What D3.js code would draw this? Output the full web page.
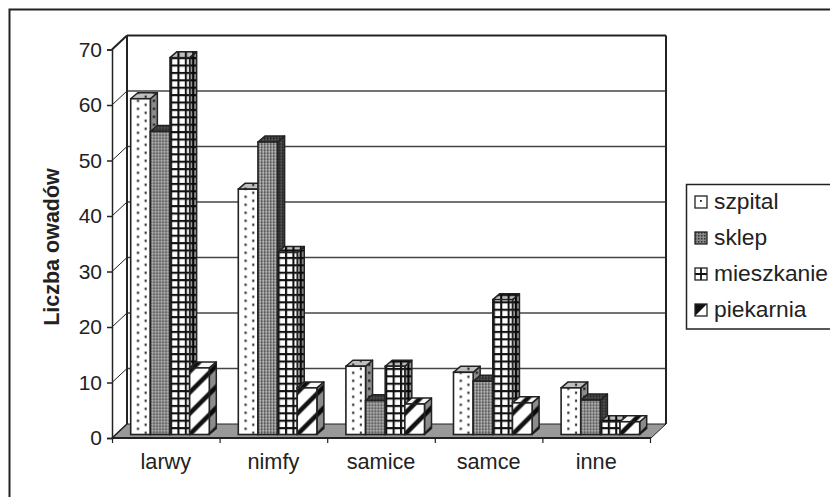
<!DOCTYPE html>
<html><head><meta charset="utf-8">
<script src="https://cdn.jsdelivr.net/npm/d3@7"></script>
<style>
html,body{margin:0;padding:0;background:#fff}
svg{display:block}
text{font-family:"Liberation Sans",Arial,sans-serif;fill:#222}
</style></head><body><svg id="c" width="830" height="497"></svg>
<script>
const categories=["larwy","nimfy","samice","samce","inne"];
const series=["szpital","sklep","mieszkanie","piekarnia"];
const szpital=[60.5,44.2,12.3,11.2,8.4];
const sklep=[54.6,52.7,6.1,9.6,6.2];
const mieszkanie=[67.9,32.8,12.3,24.3,2.3];
const piekarnia=[12,8.4,5.5,5.7,2.3];
const yTicks=[0,10,20,30,40,50,60,70];
const values={szpital,sklep,mieszkanie,piekarnia};

const ink="#222";
const svg=d3.select("#c");
const defs=svg.append("defs");
const y=d3.scaleLinear().domain([0,70]).range([438,49.5]);
const x=d3.scaleBand().domain(categories).range([112,650]);
const wall={dx:15,dy:-14};
const bar={dx:7,dy:-6,pad:18.7,span:78.6,inset:3.5};

function pat(id,w,h,draw){
  const p=defs.append("pattern").attr("id",id).attr("patternUnits","userSpaceOnUse").attr("width",w).attr("height",h);
  draw(p);
}
pat("p-szpital",16,8,p=>{
  p.append("rect").attr("width",16).attr("height",8).attr("fill","#fff");
  p.append("rect").attr("x",6.2).attr("y",1.2).attr("width",2.2).attr("height",2.2).attr("fill","#222");
  p.append("rect").attr("x",13.9).attr("y",5.2).attr("width",2.2).attr("height",2.2).attr("fill","#222");
});
pat("p-sklep",3,3,p=>{
  p.append("rect").attr("width",3).attr("height",3).attr("fill","#8a8a8a");
  p.append("rect").attr("width",1.5).attr("height",1.5).attr("fill","#444");
  p.append("rect").attr("x",1.5).attr("y",1.5).attr("width",1.5).attr("height",1.5).attr("fill","#c8c8c8");
});
pat("p-mieszkanie",7.4,7.4,p=>{
  p.append("rect").attr("width",7.4).attr("height",7.4).attr("fill","#fff");
  p.append("rect").attr("width",2.1).attr("height",7.4).attr("fill","#111");
  p.append("rect").attr("width",7.4).attr("height",2.1).attr("fill","#111");
});
pat("p-piekarnia",21,21,p=>{
  p.append("rect").attr("width",21).attr("height",21).attr("fill","#fff");
  p.append("path").attr("d","M-4,25L25,-4M-4,4L4,-4M17,25L25,17").attr("stroke","#111").attr("stroke-width",4.6);
});
pat("l-szpital",12,12,p=>{
  p.append("rect").attr("width",12).attr("height",12).attr("fill","#fff");
  p.append("rect").attr("x",5).attr("y",4).attr("width",1.8).attr("height",1.8).attr("fill","#222");
});
pat("l-sklep",3,3,p=>{
  p.append("rect").attr("width",3).attr("height",3).attr("fill","#888");
  p.append("rect").attr("width",1.5).attr("height",1.5).attr("fill","#333");
});
pat("l-mieszkanie",12,12,p=>{
  p.append("rect").attr("width",12).attr("height",12).attr("fill","#fff");
  p.append("path").attr("d","M6,0V12M0,6H12").attr("stroke","#111").attr("stroke-width",1.8);
});
pat("l-piekarnia",12,12,p=>{
  p.append("rect").attr("width",12).attr("height",12).attr("fill","#fff");
  p.append("path").attr("d","M0,12L0,0L12,0Z").attr("fill","#111");
});

// outer frame: open on the right and at the bottom
svg.append("path").attr("d","M9.5,497V9.5H830").attr("fill","none").attr("stroke",ink).attr("stroke-width",2);

const x0=x.range()[0], x1=x.range()[1]+1, yb=y(0), yt=y(70);
// floor
svg.append("path").attr("d",`M${x0},${yb}L${x1},${yb}L${x1+wall.dx},${yb+wall.dy}L${x0+wall.dx},${yb+wall.dy}Z`).attr("fill","#999").attr("stroke",ink).attr("stroke-width",1);
// gridlines: back wall and left wall
const grid=svg.append("g");
yTicks.slice(1).forEach(v=>{
  grid.append("line").attr("x1",x0+wall.dx).attr("x2",x1+wall.dx).attr("y1",y(v)+wall.dy).attr("y2",y(v)+wall.dy)
    .attr("stroke",v==70?ink:"#444").attr("stroke-width",v==70?2:1.3);
  grid.append("line").attr("x1",x0).attr("x2",x0+wall.dx).attr("y1",y(v)).attr("y2",y(v)+wall.dy)
    .attr("stroke",ink).attr("stroke-width",v==70?2:1);
});
grid.append("line").attr("x1",x0).attr("x2",x0+wall.dx).attr("y1",yb).attr("y2",yb+wall.dy).attr("stroke",ink).attr("stroke-width",1.5);
// back wall uprights
grid.append("line").attr("x1",x0+wall.dx).attr("x2",x0+wall.dx).attr("y1",yt+wall.dy).attr("y2",yb+wall.dy).attr("stroke",ink).attr("stroke-width",2);
grid.append("line").attr("x1",x1+wall.dx).attr("x2",x1+wall.dx).attr("y1",yt+wall.dy).attr("y2",yb+wall.dy).attr("stroke",ink).attr("stroke-width",2);

// bars
const overlaySide={szpital:.45,sklep:.55,mieszkanie:.4,piekarnia:.45};
const overlayTop={szpital:.25,sklep:.55,mieszkanie:.25,piekarnia:.03};
categories.forEach((c,ci)=>{
  const inner=d3.scaleBand().domain(series).range([x(c)+bar.pad,x(c)+bar.pad+bar.span]);
  series.forEach(s=>{
    const w=inner.bandwidth(), h=yb-y(values[s][ci]);
    const g=svg.append("g").attr("transform",`translate(${inner(s)},${yb-bar.inset})`);
    const side=`M${w},0L${w+bar.dx},${bar.dy}L${w+bar.dx},${-h+bar.dy}L${w},${-h}Z`;
    const top=`M0,${-h}L${bar.dx},${-h+bar.dy}L${w+bar.dx},${-h+bar.dy}L${w},${-h}Z`;
    g.append("path").attr("d",side).attr("fill",`url(#p-${s})`);
    g.append("path").attr("d",side).attr("fill",`rgba(0,0,0,${overlaySide[s]})`).attr("stroke",ink).attr("stroke-width",1.5).attr("stroke-linejoin","round");
    g.append("path").attr("d",top).attr("fill",`url(#p-${s})`);
    g.append("path").attr("d",top).attr("fill",`rgba(0,0,0,${overlayTop[s]})`).attr("stroke",ink).attr("stroke-width",1.5).attr("stroke-linejoin","round");
    g.append("rect").attr("y",-h).attr("width",w).attr("height",h).attr("fill",`url(#p-${s})`).attr("stroke",ink).attr("stroke-width",1.6);
  });
});

// y axis
const ax=svg.append("g").attr("transform",`translate(${x0},0)`).call(d3.axisLeft(y).tickValues(yTicks).tickSize(5).tickPadding(5));
ax.selectAll("text").attr("font-size",21).attr("font-family","Liberation Sans").style("fill","#222").attr("dy","0.32em");
ax.selectAll("line,path").attr("stroke",ink).attr("stroke-width",1.5);
// x axis: ticks on category boundaries, labels centred
const tickX=d3.scaleLinear().domain([0,categories.length]).range(x.range());
const bx=svg.append("g").attr("transform",`translate(0,${yb})`).call(d3.axisBottom(tickX).tickValues(d3.range(categories.length+1)).tickSize(5).tickFormat(""));
bx.selectAll("line").attr("stroke",ink).attr("stroke-width",1.2);
bx.select("path").attr("d",`M${x0},0H${x1}`).attr("stroke",ink).attr("stroke-width",2);
const lx=svg.append("g").attr("transform",`translate(0,${yb+16})`).call(d3.axisBottom(x).tickSize(0).tickPadding(0));
lx.select("path").remove();
lx.selectAll("text").attr("font-size",21.7).attr("font-family","Liberation Sans").style("fill","#222").attr("dy","0.71em");

// y title
svg.append("text").attr("transform","translate(59,247) rotate(-90)").attr("text-anchor","middle").attr("font-size",21.5).attr("font-weight","bold").text("Liczba owadów");

// legend
const lg=svg.append("g");
lg.append("path").attr("d","M830,184.5H686.5V329H830").attr("fill","#fff").attr("stroke",ink).attr("stroke-width",1.5);
const ly=d3.scalePoint().domain(series).range([202,310]);
series.forEach(s=>{
  const g=lg.append("g").attr("transform",`translate(695,${ly(s)-6})`);
  g.append("rect").attr("width",12).attr("height",12).attr("fill",`url(#l-${s})`).attr("stroke",ink).attr("stroke-width",1.3);
  lg.append("text").attr("x",714).attr("y",ly(s)).attr("dy","0.32em").attr("font-size",22.8).text(s);
});
</script></body></html>
